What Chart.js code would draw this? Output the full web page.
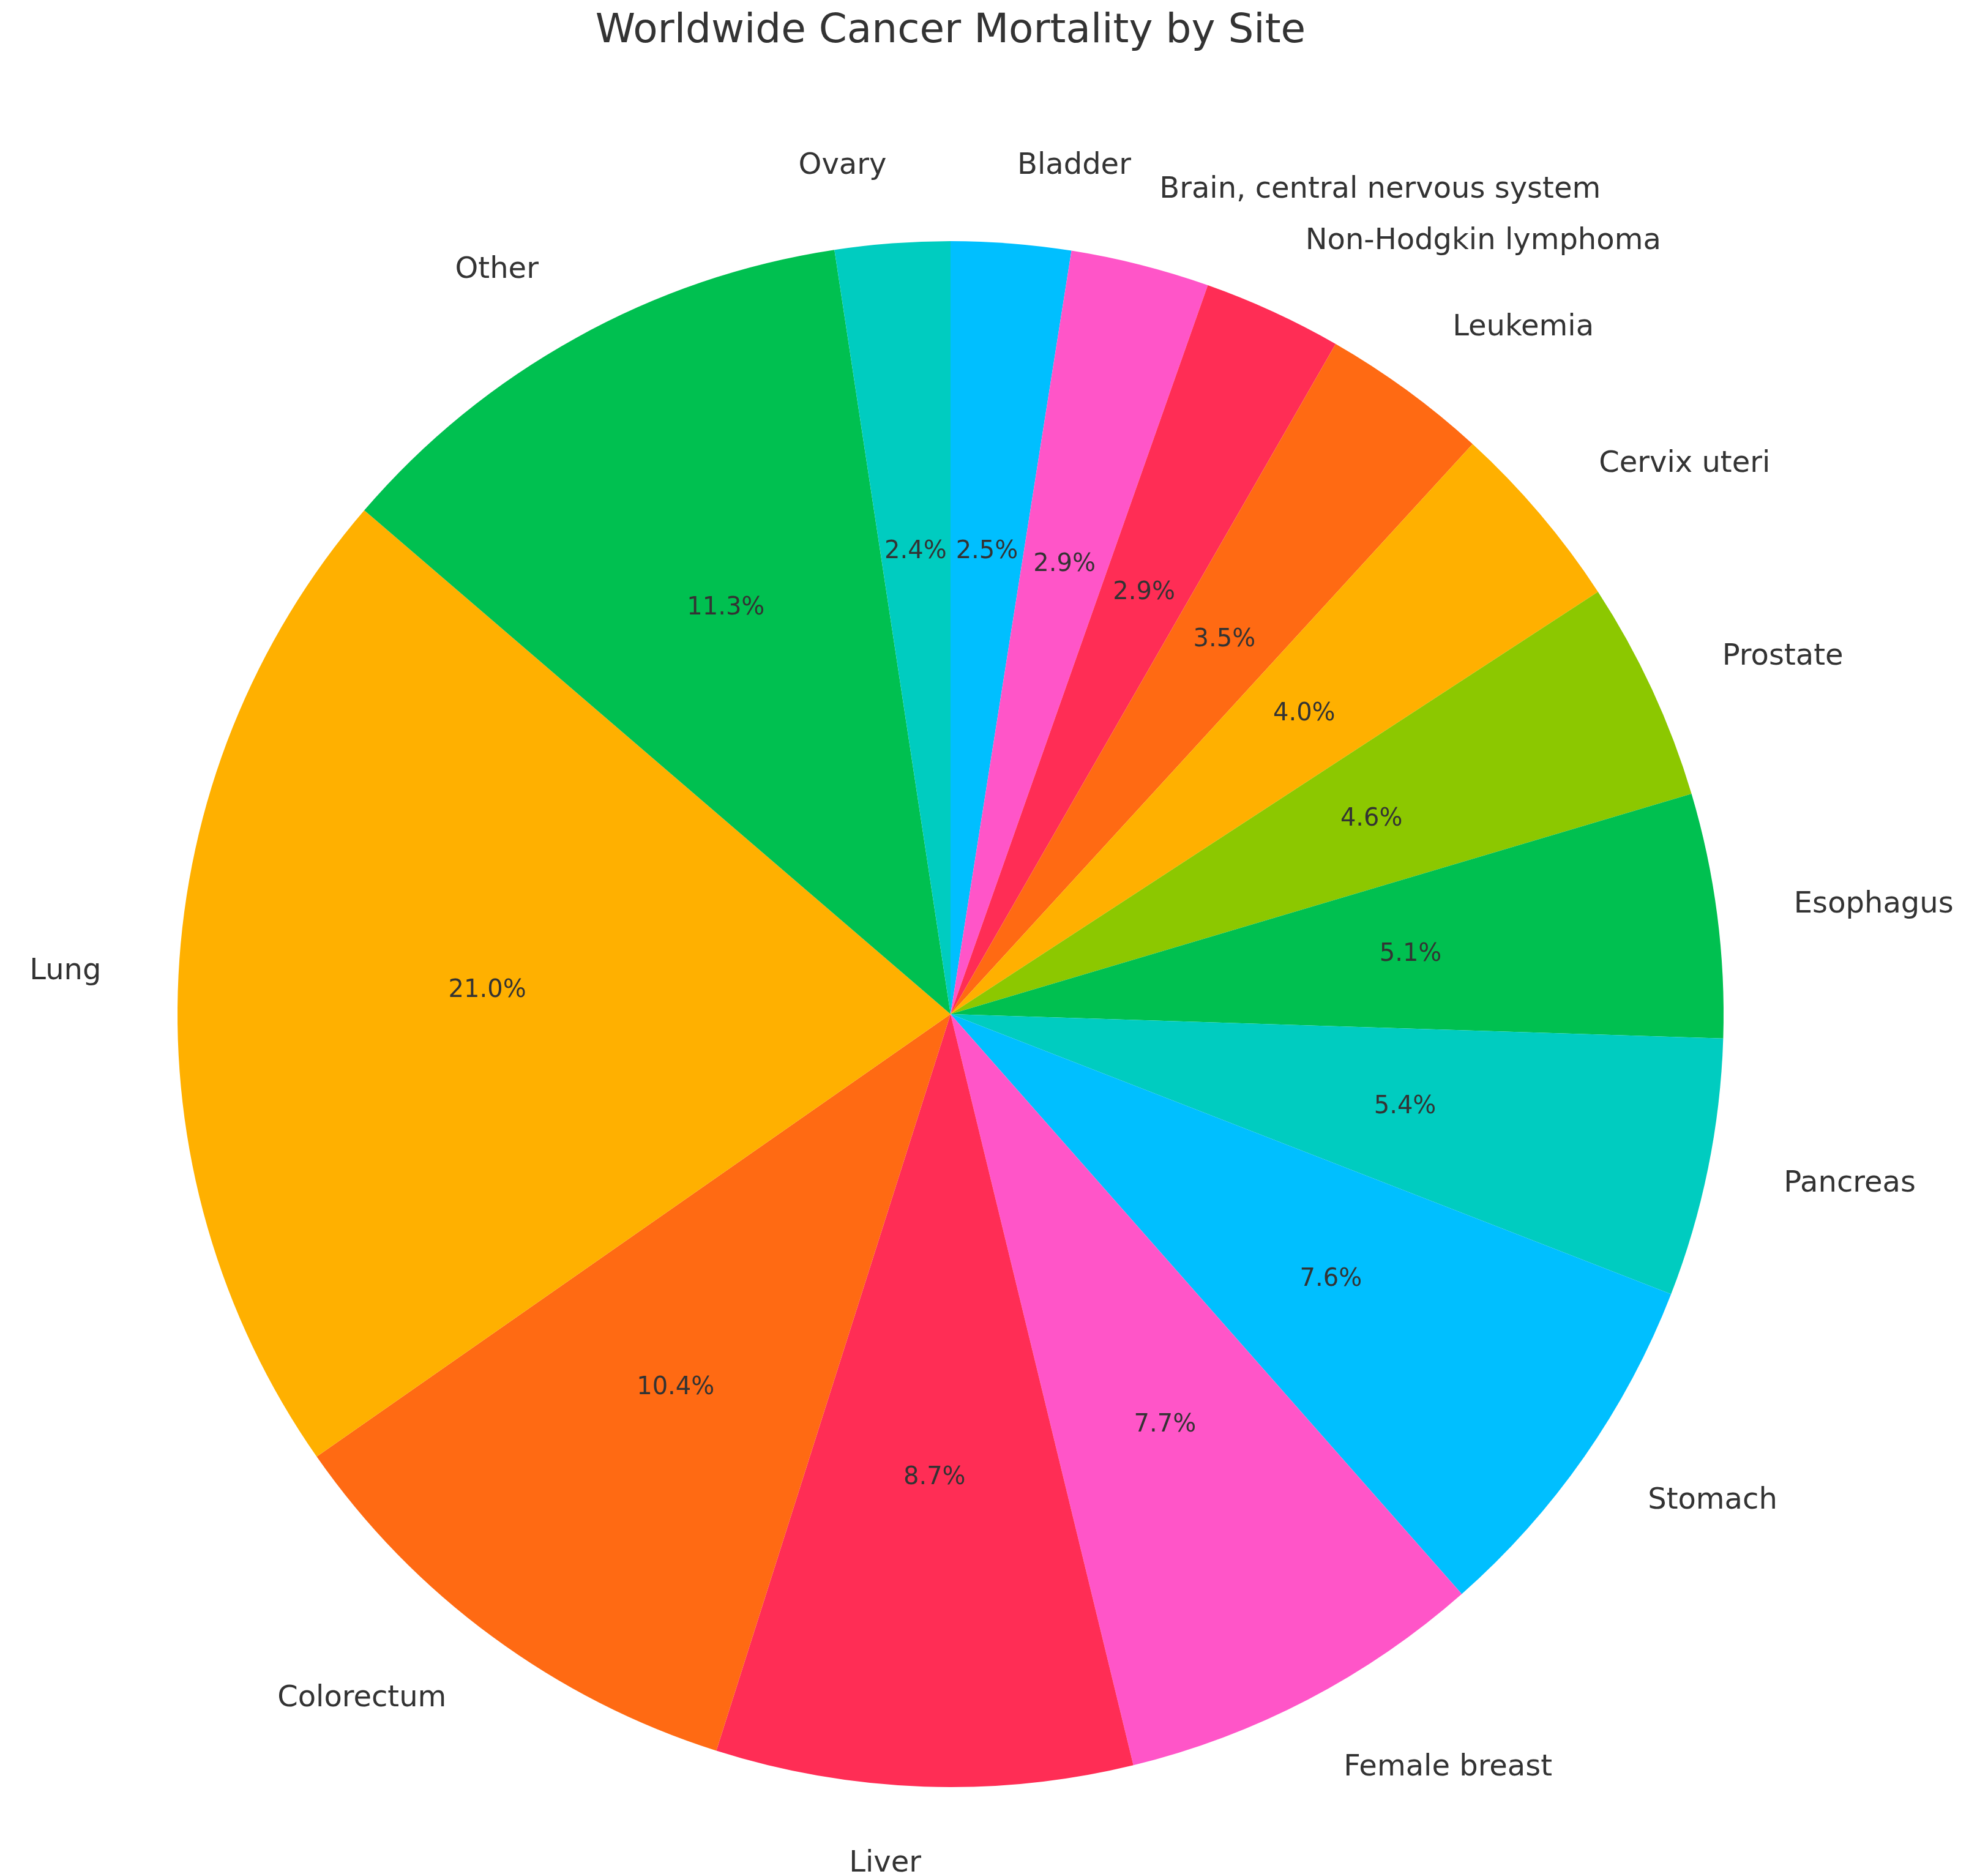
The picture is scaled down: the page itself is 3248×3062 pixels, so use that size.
<!DOCTYPE html>
<html><head><meta charset="utf-8">
<script src="https://cdn.jsdelivr.net/npm/chart.js@4"></script>
<style>html,body{margin:0;padding:0;background:#fff}#c{display:block}</style>
</head><body>
<canvas id="c" width="3248" height="3062"></canvas>
<script>
const categories = ["Bladder","Brain, central nervous system","Non-Hodgkin lymphoma","Leukemia","Cervix uteri","Prostate","Esophagus","Pancreas","Stomach","Female breast","Liver","Colorectum","Lung","Other","Ovary"];
const values = [2.5,2.9,2.9,3.5,4.0,4.6,5.1,5.4,7.6,7.7,8.7,10.4,21.0,11.3,2.4];
const colors = ["#00BFFF","#FF55C8","#FF2D55","#FF6A13","#FFB000","#8CC800","#00C050","#00CCC0","#00BFFF","#FF55C8","#FF2D55","#FF6A13","#FFB000","#00C050","#00CCC0"];
const titleText = "Worldwide Cancer Mortality by Site";

const labelPlugin = {
  id:'labels',
  afterDraw(chart){
    const ctx = chart.ctx;
    const meta = chart.getDatasetMeta(0);
    const total = values.reduce((a,b)=>a+b,0);
    ctx.save();
    ctx.fillStyle = '#333';
    ctx.textAlign='center'; ctx.textBaseline='middle';
    ctx.font = '66px "DejaVu Sans"';
    ctx.fillText(titleText, 1553, 52);
    meta.data.forEach((arc,i)=>{
      const mid = (arc.startAngle+arc.endAngle)/2;
      const r = arc.outerRadius, cx = arc.x, cy = arc.y;
      const c = Math.cos(mid), s = Math.sin(mid);
      ctx.font = '40px "DejaVu Sans"';
      ctx.textAlign='center'; ctx.textBaseline='middle';
      ctx.fillText((values[i]/total*100).toFixed(1)+'%', cx+c*r*0.6, cy+s*r*0.6);
      ctx.font = '48px "DejaVu Sans"';
      ctx.textAlign = c > 0.001 ? 'left' : (c < -0.001 ? 'right' : 'center');
      ctx.fillText(categories[i], cx+c*r*1.1, cy+s*r*1.1);
    });
    ctx.restore();
  }
};

new Chart(document.getElementById('c'), {
  type:'pie',
  data:{labels:categories, datasets:[{data:values, backgroundColor:colors, borderWidth:0}]},
  options:{
    responsive:false, animation:false,
    layout:{padding:{top:394,bottom:142,left:290,right:432}},
    plugins:{legend:{display:false},tooltip:{enabled:false},title:{display:false}}
  },
  plugins:[labelPlugin]
});
</script>
</body></html>
